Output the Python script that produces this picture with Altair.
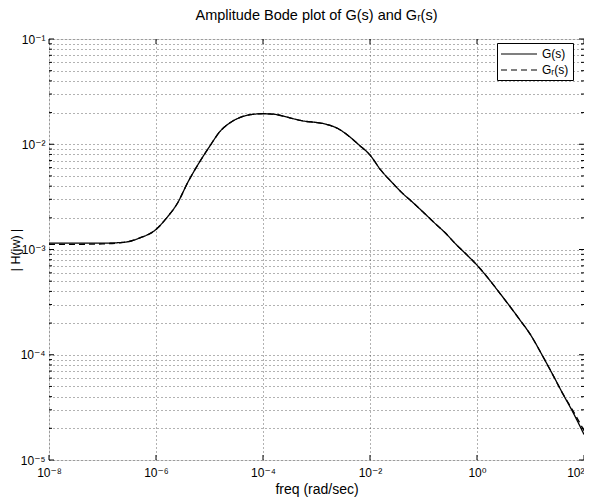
import altair as alt
import pandas as pd

# ---- data (log10 of frequency, magnitude) ----
log_freq = [-8.0, -7.5, -7.0, -6.6, -6.3, -6.0, -5.8, -5.6, -5.4, -5.2,
            -5.0, -4.8, -4.6, -4.4, -4.2, -4.0, -3.8, -3.6, -3.4, -3.2,
            -3.0, -2.8, -2.6, -2.4, -2.2, -2.0, -1.8, -1.6, -1.4, -1.2,
            -1.0, -0.8, -0.6, -0.4, -0.2, 0.0, 0.2, 0.4, 0.6, 0.8,
            1.0, 1.2, 1.4, 1.6, 1.8, 2.0]
G_mag = [1.15e-3, 1.15e-3, 1.15e-3, 1.17e-3, 1.29e-3, 1.55e-3, 2.0e-3, 2.75e-3, 4.4e-3, 6.6e-3,
         9.5e-3, 1.33e-2, 1.62e-2, 1.82e-2, 1.92e-2, 1.95e-2, 1.93e-2, 1.84e-2, 1.73e-2, 1.65e-2,
         1.61e-2, 1.54e-2, 1.41e-2, 1.2e-2, 9.8e-3, 7.9e-3, 5.7e-3, 4.4e-3, 3.45e-3, 2.8e-3,
         2.25e-3, 1.8e-3, 1.45e-3, 1.13e-3, 9.0e-4, 7.1e-4, 5.4e-4, 4.0e-4, 2.95e-4, 2.15e-4,
         1.55e-4, 1.03e-4, 6.7e-5, 4.3e-5, 2.8e-5, 1.75e-5]
Gr_mag = [1.12e-3, 1.12e-3, 1.13e-3, 1.17e-3, 1.29e-3, 1.55e-3, 2.0e-3, 2.75e-3, 4.4e-3, 6.6e-3,
          9.5e-3, 1.33e-2, 1.62e-2, 1.82e-2, 1.92e-2, 1.95e-2, 1.93e-2, 1.84e-2, 1.73e-2, 1.65e-2,
          1.61e-2, 1.54e-2, 1.41e-2, 1.2e-2, 9.8e-3, 7.9e-3, 5.7e-3, 4.4e-3, 3.45e-3, 2.8e-3,
          2.25e-3, 1.8e-3, 1.45e-3, 1.13e-3, 9.0e-4, 7.1e-4, 5.4e-4, 4.0e-4, 2.95e-4, 2.15e-4,
          1.55e-4, 1.03e-4, 6.7e-5, 4.3e-5, 2.9e-5, 1.9e-5]
series_names = ["G(s)", "Gᵣ(s)"]

x_ticks = [1e-8, 1e-6, 1e-4, 1e-2, 1e0, 1e2]
y_major = [1e-5, 1e-4, 1e-3, 1e-2, 1e-1]
y_minor = [m * d for d in [1e-5, 1e-4, 1e-3, 1e-2] for m in range(2, 10)]
y_ticks = sorted(y_major + y_minor)

rows = []
for lf, g, gr in zip(log_freq, G_mag, Gr_mag):
    rows.append({"freq": 10 ** lf, "mag": g, "series": series_names[0], "order": 0})
    rows.append({"freq": 10 ** lf, "mag": gr, "series": series_names[1], "order": 1})
df = pd.DataFrame(rows)

W, H = 535, 421
FONT = "Liberation Sans, Helvetica, Arial, DejaVu Sans"

E = "round(log(datum.value)/LN10)"
sup = "toString(" + E + ")"
for a, b in [("-", "⁻"), ("0", "⁰"), ("1", "¹"), ("2", "²"), ("3", "³"), ("4", "⁴"),
             ("5", "⁵"), ("6", "⁶"), ("7", "⁷"), ("8", "⁸"), ("9", "⁹")]:
    sup = "replace(" + sup + ",'" + a + "','" + b + "')"
is_major = "abs(datum.value/pow(10," + E + ")-1) < 1e-6"
label_expr = is_major + " ? '10' + " + sup + " : ''"

xscale = alt.Scale(type="log", domain=[1e-8, 1e2], nice=False)
yscale = alt.Scale(type="log", domain=[1e-5, 1e-1], nice=False)

common = dict(grid=True, gridDash=[1, 3], gridColor="#222", gridOpacity=0.7, ticks=False,
              domain=False, labelFlush=False, labelOverlap=False, labelFontSize=12,
              titleFontWeight="normal", labelFont=FONT, titleFont=FONT,
              labelColor="black", titleColor="black", labelExpr=label_expr)
x_axis = alt.Axis(values=x_ticks, title="freq (rad/sec)", labelPadding=7, titleFontSize=14,
                  labelAlign={"expr": "datum.value > 10 ? 'right' : 'center'"},
                  titleY=29, titleBaseline="middle", **common)
y_axis = alt.Axis(values=y_ticks, title="| H(jw) |", labelPadding=4, titleFontSize=12.5,
                  titleX=-34, titleY=H / 2, titleBaseline="middle", **common)

lines = alt.Chart(df).mark_line(color="black", strokeWidth=1.3, interpolate="monotone").encode(
    x=alt.X("freq:Q", scale=xscale, axis=x_axis),
    y=alt.Y("mag:Q", scale=yscale, axis=y_axis),
    strokeDash=alt.StrokeDash("series:N",
                              scale=alt.Scale(domain=series_names, range=[[1, 0], [6, 4]]),
                              legend=alt.Legend(title=None, orient="none", legendX=448, legendY=4,
                                                strokeColor="black", fillColor="white",
                                                padding=4, symbolType="M-3,0H3", symbolSize=144,
                                                symbolOffset=11, symbolStrokeWidth=1.2,
                                                symbolStrokeColor="black",
                                                labelFontSize=12, labelFont=FONT, labelColor="black",
                                                labelOffset=16, rowPadding=3, cornerRadius=0)),
    order="order:Q",
)

ymaj_df = pd.DataFrame({"mag": y_major})
ymin_df = pd.DataFrame({"mag": y_minor})
xmaj_df = pd.DataFrame({"freq": x_ticks})

def yticks(data, length):
    base = alt.Chart(data).mark_rule(color="black", strokeWidth=1)
    left = base.encode(y=alt.Y("mag:Q", scale=yscale, axis=y_axis), x=alt.value(0), x2=alt.value(length))
    right = base.encode(y=alt.Y("mag:Q", scale=yscale, axis=y_axis), x=alt.value(W), x2=alt.value(W - length))
    return [left, right]

xb = alt.Chart(xmaj_df).mark_rule(color="black", strokeWidth=1)
xt_bottom = xb.encode(x=alt.X("freq:Q", scale=xscale, axis=x_axis), y=alt.value(H), y2=alt.value(H - 5))
xt_top = xb.encode(x=alt.X("freq:Q", scale=xscale, axis=x_axis), y=alt.value(0), y2=alt.value(5))

chart = alt.layer(lines, *yticks(ymaj_df, 5), *yticks(ymin_df, 3), xt_bottom, xt_top).properties(
    width=W, height=H,
    title=alt.TitleParams("Amplitude Bode plot of G(s) and Gᵣ(s)", fontSize=14.5, font=FONT,
                          fontWeight="normal", anchor="middle", offset=10, color="black"),
    autosize=alt.AutoSizeParams(type="none"),
    padding={"left": 41, "top": 31, "right": 0, "bottom": 40},
).configure_view(stroke="black", strokeWidth=1.2).configure(background="white")

chart.save("out.html", embed_options={"renderer": "svg", "actions": False})
